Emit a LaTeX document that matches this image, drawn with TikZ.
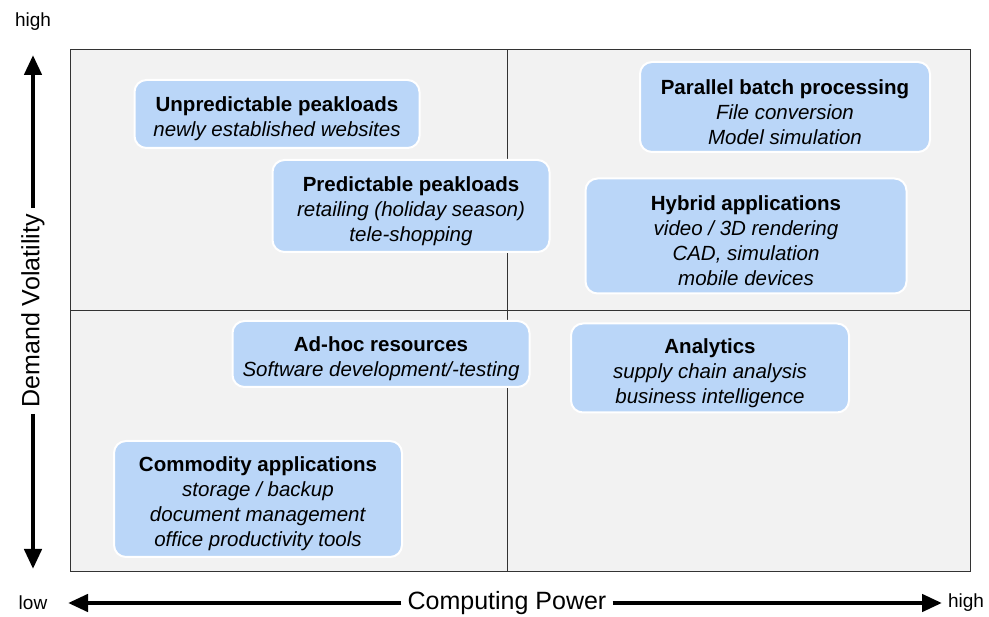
\documentclass[tikz,border=0pt]{standalone}
\usepackage{fontspec}
\setmainfont{Liberation Sans}
\usetikzlibrary{arrows.meta, positioning}
\definecolor{quadgray}{HTML}{F2F2F2}
\definecolor{boxblue}{HTML}{BAD6F8}
\definecolor{framegray}{HTML}{333333}
\newcommand{\quadtitle}[1]{\rule{0pt}{25pt}\textbf{#1}}

\begin{document}
\begin{tikzpicture}[x=1pt, y=-1pt,
    quad/.style={rounded corners=12pt, fill=boxblue, draw=white, line width=2pt, align=center,
        inner sep=0pt, font=\fontsize{20.5}{25}\selectfont},
    axis/.style={-{Triangle[length=20pt, width=17pt]}, line width=4.5pt, color=black},
    axislabel/.style={font=\fontsize{25}{29}\selectfont, inner sep=6pt},
    endlabel/.style={font=\fontsize{19}{22}\selectfont}
]
\useasboundingbox (0,0) rectangle (989,617);

% Quadrants
\draw[framegray, fill=quadgray, line width=1pt] (70,50) rectangle (970,572);
\draw[framegray, line width=1pt] (507,50) -- (507,572);
\draw[framegray, line width=1pt] (70,311) -- (970,311);

% Application classes
\node[quad, minimum width=285pt, minimum height=68pt] (unpred) at (277,114)
    {\quadtitle{Unpredictable peakloads}\\\textit{newly established websites}};
\node[quad, minimum width=277pt, minimum height=92pt] (pred) at (411,206)
    {\quadtitle{Predictable peakloads}\\\textit{retailing (holiday season)}\\\textit{tele-shopping}};
\node[quad, minimum width=290pt, minimum height=90pt] (batch) at (785,107)
    {\quadtitle{Parallel batch processing}\\\textit{File conversion}\\\textit{Model simulation}};
\node[quad, minimum width=321pt, minimum height=115pt] (hybrid) at (746,236)
    {\quadtitle{Hybrid applications}\\\textit{video / 3D rendering}\\\textit{CAD, simulation}\\\textit{mobile devices}};
\node[quad, minimum width=297pt, minimum height=66pt] (adhoc) at (381,354)
    {\quadtitle{Ad-hoc resources}\\\textit{Software development/-testing}};
\node[quad, minimum width=278pt, minimum height=89pt] (analytics) at (710,368)
    {\quadtitle{Analytics}\\\textit{supply chain analysis}\\\textit{business intelligence}};
\node[quad, minimum width=288pt, minimum height=116pt] (commodity) at (258,499)
    {\quadtitle{Commodity applications}\\\textit{storage / backup}\\\textit{document management}\\\textit{office productivity tools}};

% Vertical axis
\node[axislabel, rotate=90] (volatility) at (33,311) {Demand Volatility};
\coordinate (vtop) at (33,55);
\coordinate (vbottom) at (33,569);
\draw[axis] (volatility.east) -- (vtop);
\draw[axis] (volatility.west) -- (vbottom);
\node[endlabel] (vhigh) at (33,22) {high};

% Horizontal axis
\node[axislabel] (power) at (507,603) {Computing Power};
\coordinate (hleft) at (68,603);
\coordinate (hright) at (942,603);
\draw[axis] (power.west) -- (hleft);
\draw[axis] (power.east) -- (hright);
\node[endlabel] (hlow) at (33,603) {low};
\node[endlabel] (hhigh) at (966,603) {high};

\end{tikzpicture}
\end{document}
